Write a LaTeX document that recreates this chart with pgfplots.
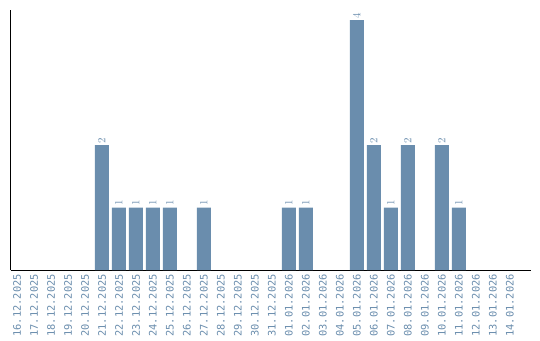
\documentclass[border=0pt]{standalone}
\usepackage{pgfplots}
\pgfplotsset{compat=1.18}
\usepackage{fontspec}
\setmainfont{DejaVu Sans}
\newfontfamily\monof{DejaVu Sans Mono}
\definecolor{barc}{RGB}{106,141,173}
\begin{document}
\begin{tikzpicture}
\begin{axis}[
  name=ax,
  scale only axis,
  width=520bp, height=260bp,
  xmin=-0.37, xmax=30.24,
  ymin=0, ymax=4.16,
  axis x line=bottom, axis y line=left,
  axis line style={-, black, line width=0.8pt},
  ytick=\empty,
  xtick={0,...,29},
  xticklabels={16.12.2025,17.12.2025,18.12.2025,19.12.2025,20.12.2025,21.12.2025,22.12.2025,23.12.2025,24.12.2025,25.12.2025,26.12.2025,27.12.2025,28.12.2025,29.12.2025,30.12.2025,31.12.2025,01.01.2026,02.01.2026,03.01.2026,04.01.2026,05.01.2026,06.01.2026,07.01.2026,08.01.2026,09.01.2026,10.01.2026,11.01.2026,12.01.2026,13.01.2026,14.01.2026},
  major tick length=0pt,
  xticklabel style={rotate=90, anchor=east, font=\monof\fontsize{10.4}{11}\selectfont, text=barc, inner ysep=0pt, inner xsep=4bp, outer sep=0pt},
  every tick/.style={draw=none},
  clip=false,
]
\addplot[ybar, bar width=14bp, fill=barc, draw=none,
  nodes near coords,
  every node near coord/.append style={rotate=90, anchor=west, font=\monof\fontsize{10.5}{10}\selectfont, text=barc, inner xsep=1.5bp, inner ysep=0pt}]
coordinates {
(5,2) (6,1) (7,1) (8,1) (9,1) (11,1) (16,1) (17,1)
(20,4) (21,2) (22,1) (23,2) (25,2) (26,1)
};
\end{axis}
\path (ax.south west) ++(-10.7bp,-70bp) coordinate (a);
\path (ax.north east) ++(9bp,10bp) coordinate (b);
\path[use as bounding box] (a) rectangle (b);
\end{tikzpicture}
\end{document}
